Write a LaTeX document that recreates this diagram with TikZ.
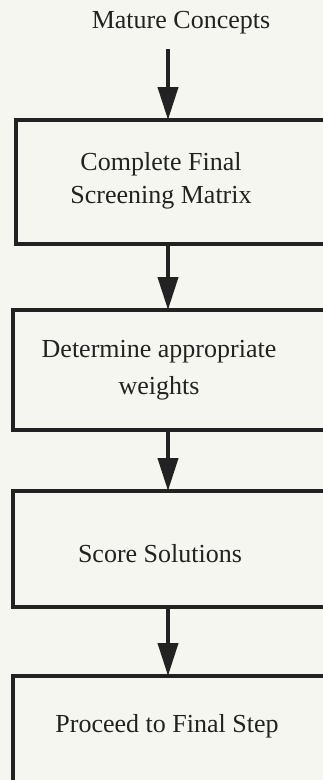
\documentclass[tikz,border=0pt]{standalone}
\usepackage{fontspec}
\setmainfont{Liberation Serif}
\usetikzlibrary{arrows.meta}
\definecolor{paper}{RGB}{246,246,240}
\definecolor{ink}{RGB}{34,34,34}

\begin{document}
\begin{tikzpicture}[x=1pt,y=-1pt,
    box/.style={draw=ink,line width=4pt,outer sep=0pt,inner sep=0pt},
    txt/.style={text=ink,font=\fontsize{26}{33}\selectfont,align=center,inner sep=0pt},
    flow/.style={draw=ink,line width=4pt,-{Triangle[length=33pt,width=20pt]}}]

% Page
\useasboundingbox (0,0) rectangle (323,780);
\fill[paper] (0,0) rectangle (323,780);
\clip (0,0) rectangle (323,780);

% Boxes
\node[box,minimum width=324pt,minimum height=124pt] (b1) at (178,182) {};
\node[box,minimum width=327pt,minimum height=120pt] (b2) at (176.5,370) {};
\node[box,minimum width=327pt,minimum height=116pt] (b3) at (176.5,549) {};
\node[box,minimum width=327pt,minimum height=204pt] (b4) at (176.5,778) {};

% Labels
\node[txt,anchor=base] (src) at (181,28) {Mature Concepts};
\node[txt] (t1) at (161,181) {Complete Final\\Screening Matrix};
\node[txt] (t2) at (159,370) {Determine appropriate\\[4pt]weights};
\node[txt,anchor=base] (t3) at (160,562) {Score Solutions};
\node[txt,anchor=base] (t4) at (167,732) {Proceed to Final Step};

% Arrows
\coordinate (stem) at (168,49);
\draw[flow] (stem) -- (b1.north -| stem);
\draw[flow] (b1.south -| stem) -- (b2.north -| stem);
\draw[flow] (b2.south -| stem) -- (b3.north -| stem);
\draw[flow] (b3.south -| stem) -- (b4.north -| stem);

\end{tikzpicture}
\end{document}
